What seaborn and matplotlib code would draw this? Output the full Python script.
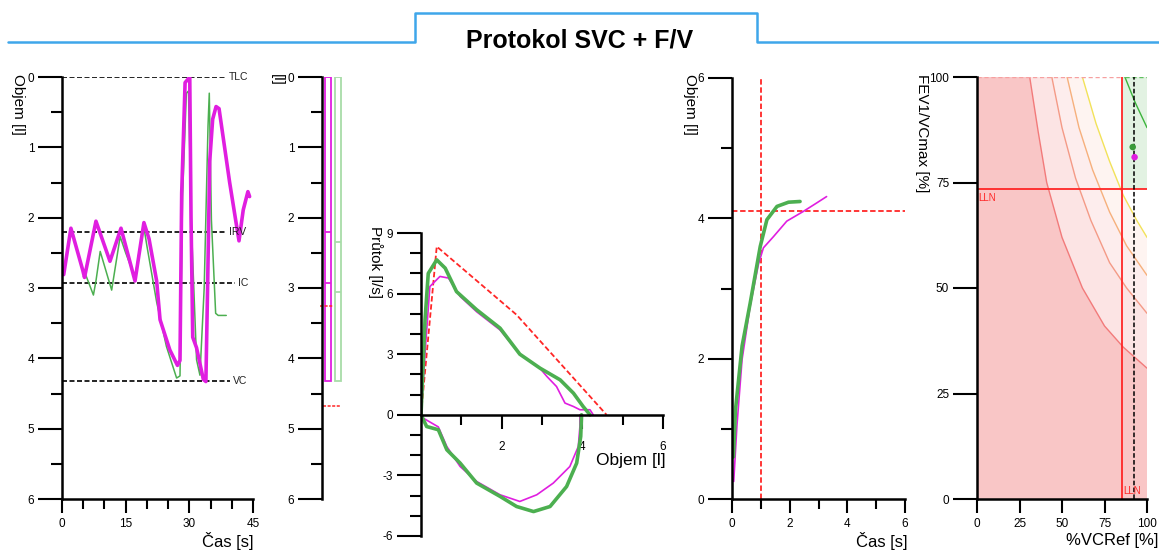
import matplotlib
matplotlib.use('Agg')
import matplotlib.pyplot as plt
from matplotlib.lines import Line2D
from matplotlib.ticker import MultipleLocator, FixedLocator
import seaborn as sns

sns.set_style('ticks')
plt.rcParams['font.family'] = ['Liberation Sans', 'DejaVu Sans']
plt.rcParams['axes.unicode_minus'] = False
plt.rcParams['axes.edgecolor'] = 'black'
plt.rcParams['xtick.color'] = 'black'
plt.rcParams['ytick.color'] = 'black'
plt.rcParams['text.color'] = 'black'

MAG = '#e01ee0'
GRN = '#4caf50'
RED = '#ff2626'

# SVC volume/time traces
svc_mag_t = [0.4, 2.1, 4.9, 5.3, 8.0, 11.3, 13.9, 17.2, 19.3, 20.5, 22.3, 23.1, 25.4, 27.2, 27.8,
             28.2, 29.0, 30.1, 30.4, 30.8, 31.7, 33.3, 33.9, 34.3, 34.8, 35.5, 36.3, 37.0, 39.5,
             41.7, 42.7, 43.8, 44.2]
svc_mag_v = [2.81, 2.15, 2.75, 2.85, 2.05, 2.62, 2.15, 2.9, 2.07, 2.3, 2.9, 3.45, 3.88, 4.1, 4.03,
             1.65, 0.08, 0.0, 2.0, 3.7, 3.85, 4.3, 4.33, 3.0, 1.2, 0.6, 0.42, 0.45, 1.5,
             2.33, 1.89, 1.63, 1.7]
svc_grn_t = [0.4, 2.1, 4.9, 5.5, 7.4, 8.0, 9.0, 11.7, 13.7, 15.0, 17.2, 19.2, 20.0, 22.3, 24.6,
             27.0, 27.8, 28.4, 29.3, 29.8, 30.5, 31.7, 32.5, 33.5, 34.4, 34.7, 35.2, 36.2, 36.8, 38.7]
svc_grn_v = [2.81, 2.15, 2.75, 2.8, 3.1, 2.9, 2.48, 3.03, 2.27, 2.5, 2.85, 2.1, 2.4, 3.2, 3.83,
             4.28, 4.25, 1.7, 0.23, 0.2, 2.13, 4.02, 4.24, 3.0, 0.7, 0.23, 2.03, 3.36, 3.39, 3.39]
lung_levels = [0.0, 2.2, 2.93, 4.32]
lung_names = ['TLC', 'IRV', 'IC', 'VC']
lung_line_end = [38.7, 38.7, 40.7, 39.5]
lung_label_t = [39.4, 39.4, 41.5, 40.3]

# compartment bars
bar_vc = [4.32, 4.32]
bar_irv = [2.2, 2.35]
bar_ic = [2.93, 3.05]
pred_marks = [3.25, 4.68]

# flow / volume loops
fv_mag_exp_v = [0, 0.1, 0.22, 0.47, 0.68, 0.97, 1.38, 1.96, 2.45, 2.95, 3.12, 3.36, 3.57, 3.78, 3.94, 4.19, 4.27]
fv_mag_exp_f = [0, 3.05, 6.35, 6.85, 6.77, 5.86, 5.1, 4.2, 3.0, 2.3, 1.9, 1.4, 0.58, 0.41, 0.25, 0.25, 0]
fv_mag_ins_v = [0, 0.43, 0.64, 0.97, 1.38, 1.96, 2.45, 2.87, 3.28, 3.69, 3.9, 3.94, 3.94]
fv_mag_ins_f = [-0.1, -0.6, -1.57, -2.56, -3.3, -3.96, -4.29, -3.96, -3.38, -2.56, -1.57, -0.58, 0]
fv_grn_exp_v = [0, 0.1, 0.18, 0.39, 0.6, 0.88, 1.38, 1.96, 2.45, 2.95, 3.45, 3.78, 4.02, 4.19]
fv_grn_exp_f = [0, 4.7, 7.0, 7.67, 7.26, 6.1, 5.2, 4.29, 3.0, 2.31, 1.73, 1.07, 0.41, 0]
fv_grn_ins_v = [0, 0.14, 0.43, 0.64, 0.97, 1.38, 1.96, 2.37, 2.79, 3.2, 3.61, 3.86, 3.96, 3.98]
fv_grn_ins_f = [0, -0.58, -0.74, -1.73, -2.39, -3.38, -4.04, -4.54, -4.79, -4.54, -3.55, -2.39, -1.07, 0]
fv_pred_v = [0, 0.39, 2.37, 4.6]
fv_pred_f = [0, 8.33, 4.95, 0]

# volume / time (forced)
vt_mag_t = [0.06, 0.17, 0.35, 0.63, 0.92, 1.09, 1.44, 1.9, 2.48, 2.94, 3.28]
vt_mag_v = [0.25, 1.04, 1.99, 2.75, 3.35, 3.58, 3.74, 3.96, 4.1, 4.22, 4.31]
vt_grn_t = [0.05, 0.12, 0.35, 0.63, 0.98, 1.21, 1.56, 1.96, 2.36]
vt_grn_v = [0.6, 1.27, 2.18, 2.79, 3.6, 3.98, 4.17, 4.23, 4.24]
fev_time = 1.0
fev_pred = 4.1

# FEV1/VC vs %VC chart
c1_x = [31, 36, 41, 50, 62, 75, 86, 100]
c1_y = [100, 87, 75, 62, 50, 41, 36, 31]
c2_x = [44, 50, 58, 67, 78, 88, 100]
c2_y = [100, 88, 76, 66, 56, 50, 44]
c3_x = [53, 60, 68, 78, 88, 100]
c3_y = [100, 88, 78, 68, 60, 53]
c4_x = [62, 70, 78, 86, 94, 100]
c4_y = [100, 89, 80, 72, 66, 62]
c5_x = [87, 93, 100]
c5_y = [100, 94, 88]
lln_vc = 85.5
lln_ratio = 73.5
vc_meas = 92.5
pt_vc = [91.6, 92.7]
pt_ratio = [83.4, 81.0]

W, H = 1159, 550
fig = plt.figure(figsize=(W / 100, H / 100), dpi=100)


def px_axes(x0, x1, y0, y1):
    return fig.add_axes([x0 / W, 1 - y1 / H, (x1 - x0) / W, (y1 - y0) / H])


def style(ax, ylen=17, xlen=10):
    for s in ['top', 'right']:
        ax.spines[s].set_visible(False)
    for s in ['left', 'bottom']:
        ax.spines[s].set_linewidth(1.8)
    ax.set_facecolor('none')
    ax.tick_params(axis='y', which='major', length=ylen, width=1.5, labelsize=8.5, pad=3, direction='out')
    ax.tick_params(axis='y', which='minor', length=8, width=1.5, direction='out')
    ax.tick_params(axis='x', which='major', length=xlen, width=1.5, labelsize=8.5, pad=4, direction='out')
    ax.tick_params(axis='x', which='minor', length=7, width=1.5, direction='out')


def vlabel(x, y, s):
    fig.text(x / W, 1 - y / H, s, rotation=270, ha='center', va='top', fontsize=11)


def hlabel(x, y, s, fs=12):
    fig.text(x / W, 1 - y / H, s, ha='right', va='center', fontsize=fs)


# title with blue frame line
fig.add_artist(Line2D([8 / W, 415 / W, 415 / W, 757 / W, 757 / W, 1],
                      [1 - 42 / H, 1 - 42 / H, 1 - 13 / H, 1 - 13 / H, 1 - 42 / H, 1 - 42 / H],
                      transform=fig.transFigure, color='#3fa6ea', lw=1.8))
fig.text(580 / W, 1 - 41 / H, 'Protokol SVC + F/V', ha='center', va='center', fontsize=18, weight='bold')

# ---- panel 1: SVC
ax1 = px_axes(62, 253, 77, 499)
sns.lineplot(x=svc_grn_t, y=svc_grn_v, ax=ax1, color=GRN, lw=1.1, sort=False, estimator=None)
sns.lineplot(x=svc_mag_t, y=svc_mag_v, ax=ax1, color=MAG, lw=2.6, sort=False, estimator=None)
for lev, name, te, tl in zip(lung_levels, lung_names, lung_line_end, lung_label_t):
    ax1.plot([0, te], [lev, lev], color='black', ls=(0, (3, 1.5)), lw=1.2, zorder=1)
    ax1.text(tl, lev, name, fontsize=7.5, va='center', ha='left', color='#222222')
ax1.set_xlim(0, 45)
ax1.set_ylim(6, 0)
ax1.xaxis.set_major_locator(MultipleLocator(15))
ax1.xaxis.set_minor_locator(MultipleLocator(5))
ax1.yaxis.set_major_locator(MultipleLocator(1))
ax1.yaxis.set_minor_locator(MultipleLocator(0.5))
style(ax1)
vlabel(18, 74, 'Objem [l]')
hlabel(254, 541, 'Čas [s]')

# ---- panel 2: compartments
ax2 = px_axes(322, 342, 77, 499)
bx = [0.3, 0.78]
bcol = [MAG, '#a8dca8']
ax2.bar(bx, bar_vc, bottom=0, width=0.29, fill=False, edgecolor=bcol, linewidth=1.3)
for i in range(2):
    ax2.hlines([bar_irv[i], bar_ic[i]], bx[i] - 0.145, bx[i] + 0.145, color=bcol[i], lw=1.3)
ax2.hlines(pred_marks[0], -0.1, 0.55, color=RED, ls=(0, (2, 1)), lw=1.1, clip_on=False)
ax2.hlines(pred_marks[1], 0.05, 0.9, color=RED, ls=(0, (2, 1)), lw=1.1, clip_on=False)
ax2.set_xlim(0, 1)
ax2.set_ylim(6, 0)
ax2.yaxis.set_major_locator(MultipleLocator(1))
ax2.yaxis.set_minor_locator(MultipleLocator(0.5))
style(ax2)
ax2.spines['bottom'].set_visible(False)
ax2.set_xticks([])
vlabel(277, 74, '[l]')

# ---- panel 3: flow / volume
ax3 = px_axes(421, 663, 233, 536)
sns.lineplot(x=fv_pred_v, y=fv_pred_f, ax=ax3, color=RED, lw=1.3, ls=(0, (3, 1.5)), sort=False, estimator=None)
sns.lineplot(x=fv_mag_exp_v, y=fv_mag_exp_f, ax=ax3, color=MAG, lw=1.2, sort=False, estimator=None)
sns.lineplot(x=fv_mag_ins_v, y=fv_mag_ins_f, ax=ax3, color=MAG, lw=1.2, sort=False, estimator=None)
sns.lineplot(x=fv_grn_exp_v, y=fv_grn_exp_f, ax=ax3, color=GRN, lw=2.6, sort=False, estimator=None)
sns.lineplot(x=fv_grn_ins_v, y=fv_grn_ins_f, ax=ax3, color=GRN, lw=2.6, sort=False, estimator=None)
ax3.set_xlim(0, 6)
ax3.set_ylim(-6, 9)
ax3.spines['bottom'].set_position(('data', 0))
ax3.xaxis.set_major_locator(FixedLocator([2, 4, 6]))
ax3.xaxis.set_minor_locator(FixedLocator([1, 3, 5]))
ax3.yaxis.set_major_locator(MultipleLocator(3))
ax3.yaxis.set_minor_locator(MultipleLocator(1))
style(ax3)
ax3.tick_params(axis='x', which='major', pad=9)
vlabel(375, 226, 'Průtok [l/s]')
hlabel(666, 460, 'Objem [l]', fs=12.5)

# ---- panel 4: volume / time
ax4 = px_axes(732, 905, 78, 499)
ax4.axvline(fev_time, color=RED, ls=(0, (3, 1.5)), lw=1.3)
ax4.axhline(fev_pred, color=RED, ls=(0, (3, 1.5)), lw=1.3)
sns.lineplot(x=vt_mag_t, y=vt_mag_v, ax=ax4, color=MAG, lw=1.2, sort=False, estimator=None)
sns.lineplot(x=vt_grn_t, y=vt_grn_v, ax=ax4, color=GRN, lw=2.6, sort=False, estimator=None)
ax4.set_xlim(0, 6)
ax4.set_ylim(0, 6)
ax4.xaxis.set_major_locator(MultipleLocator(2))
ax4.xaxis.set_minor_locator(MultipleLocator(1))
ax4.yaxis.set_major_locator(MultipleLocator(2))
ax4.yaxis.set_minor_locator(MultipleLocator(1))
style(ax4)
vlabel(690, 74, 'Objem [l]')
hlabel(908, 541, 'Čas [s]')

# ---- panel 5: FEV1/VCmax vs %VCRef
ax5 = px_axes(977, 1147, 77, 499)
ax5.fill([0, 100] + c1_x[::-1] + [0], [0, 0] + c1_y[::-1] + [100], color='#f9c6c6', lw=0, zorder=0)
ax5.fill(c1_x + c2_x[::-1], c1_y + c2_y[::-1], color='#fce4e4', lw=0, zorder=0)
ax5.fill(c2_x + c3_x[::-1], c2_y + c3_y[::-1], color='#fdeded', lw=0, zorder=0)
ax5.fill(c3_x + c4_x[::-1], c3_y + c4_y[::-1], color='#fef4f1', lw=0, zorder=0)
ax5.fill([lln_vc, 100, 100, lln_vc], [lln_ratio, lln_ratio, 100, 100], color='#e2f2e2', lw=0, zorder=0.5)
for cx, cy, cc in [(c1_x, c1_y, '#f27a7a'), (c2_x, c2_y, '#f49a86'), (c3_x, c3_y, '#f6b07c'),
                   (c4_x, c4_y, '#f2e25a'), (c5_x, c5_y, '#3cb43c')]:
    sns.lineplot(x=cx, y=cy, ax=ax5, color=cc, lw=1.0, sort=False, estimator=None)
ax5.plot([0, lln_vc], [100, 100], color='#f6a0a0', ls=(0, (3, 2)), lw=1)
ax5.plot([87, 100], [100, 100], color='#60c060', ls=(0, (3, 2)), lw=1)
ax5.axhline(lln_ratio, color=RED, lw=1.3)
ax5.axvline(lln_vc, color=RED, lw=1.3)
ax5.axvline(vc_meas, color='black', ls=(0, (3, 1.5)), lw=1.1)
sns.scatterplot(x=pt_vc, y=pt_ratio, hue=['a', 'b'], palette=['#3a9a3a', MAG], ax=ax5, s=22,
                legend=False, linewidth=0, zorder=5)
ax5.text(0.8, lln_ratio - 1, 'LLN', color=RED, fontsize=7, va='top', ha='left')
ax5.text(lln_vc + 0.8, 0.8, 'LLN', color=RED, fontsize=7, va='bottom', ha='left')
ax5.set_xlim(0, 100)
ax5.set_ylim(0, 100)
ax5.set_xticks([0, 25, 50, 75, 100])
ax5.set_yticks([0, 25, 50, 75, 100])
style(ax5)
vlabel(922, 74, 'FEV1/VCmax [%]')
hlabel(1158, 541, '%VCRef [%]')

fig.savefig('out.png', dpi=100)
